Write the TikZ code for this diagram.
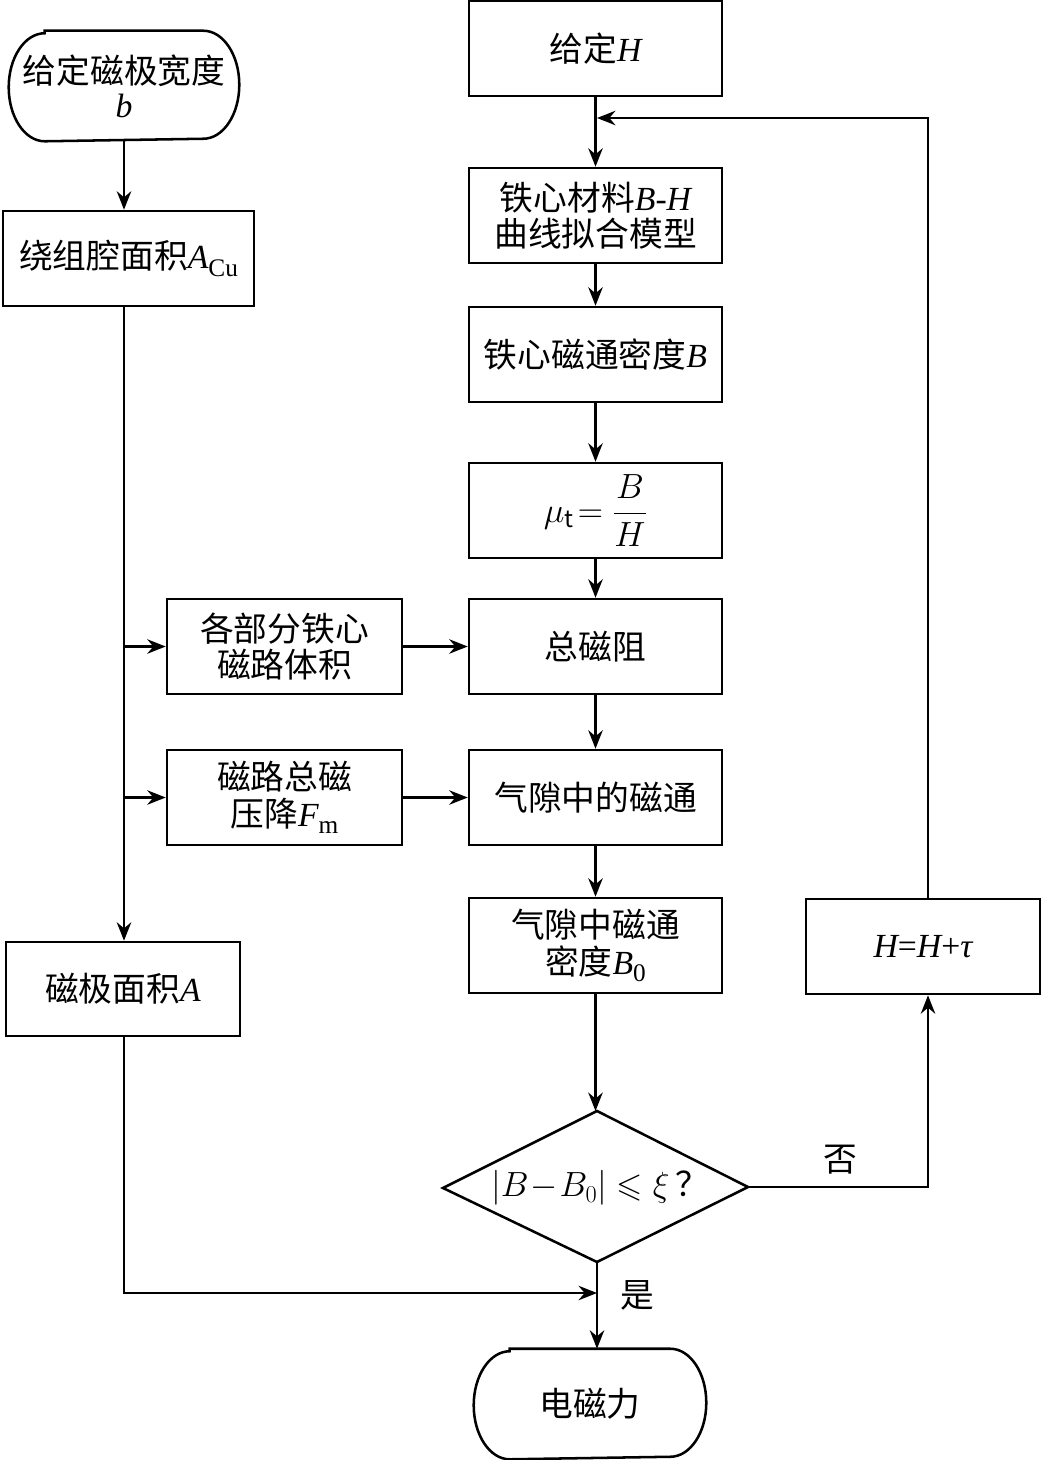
\documentclass[tikz,border=0pt]{standalone}
\usepackage{amsmath,amssymb}
\usepackage{fontspec}
\setmainfont{Noto Sans CJK SC}
\newfontfamily\lat{Liberation Serif}
\usetikzlibrary{arrows.meta}
\newcommand\vi[1]{{\lat\itshape #1}}
\newcommand\lsub[1]{\raisebox{-0.4ex}{{\lat\fontsize{18}{18}\selectfont #1}}}
\begin{document}
\begin{tikzpicture}[x=0.025cm,y=0.025cm,
 font=\fontsize{24}{26}\selectfont,
 line width=1.8pt,
 box/.style={draw, rectangle, inner sep=0pt, align=center, minimum height=2.375cm},
 cbox/.style={box, minimum width=6.325cm},
 sbox/.style={box, minimum width=5.875cm},
 arr/.style={-{Stealth[length=4.6mm,width=3.6mm,inset=1.5mm]}},
 lbl/.style={inner sep=0pt},
]
\useasboundingbox (0,0) rectangle (1042,-1460);

% left column
\node[inner sep=0pt, align=center, minimum width=5.7cm, minimum height=2.7cm] (st) at (124,-86) {给定磁极宽度\\[-2pt]\vi{b}};
\draw ([xshift=0.9cm]st.north west) -- ([xshift=-0.9cm]st.north east)
  arc[start angle=90,end angle=-90,x radius=0.9cm,y radius=1.35cm]
  -- ([xshift=0.9cm]st.south west)
  arc[start angle=270,end angle=90,x radius=0.9cm,y radius=1.35cm] -- cycle;
\node[box, minimum width=6.275cm] (acu) at (128.5,-258.5) {绕组腔面积\vi{A}\lsub{Cu}};
\node[box, minimum width=5.85cm, minimum height=2.35cm] (area) at (123,-989) {磁极面积\vi{A}};
\node[sbox] (vol) at (284.5,-646.5) {各部分铁心\\磁路体积};
\node[sbox] (mmf) at (284.5,-797.5) {磁路总磁\\压降\vi{F}\lsub{m}};

% centre column
\node[cbox] (gh) at (595.5,-48.5) {给定\vi{H}};
\node[cbox] (bh) at (595.5,-215.5) {铁心材料\vi{B-H}\\曲线拟合模型};
\node[cbox] (bd) at (595.5,-354.5) {铁心磁通密度\vi{B}};
\node[cbox] (mu) at (595.5,-510.5) {$\mu_{\mathrm{t}}\!=\dfrac{B}{H}$};
\node[cbox] (rel) at (595.5,-646.5) {总磁阻};
\node[cbox] (flux) at (595.5,-797.5) {气隙中的磁通};
\node[cbox] (b0) at (595.5,-945.5) {气隙中磁通\\密度\vi{B}\lsub{0}};

% decision
\coordinate (dtop) at (597,-1111);
\coordinate (dleft) at (443,-1188);
\coordinate (dright) at (748,-1187);
\coordinate (dbot) at (597,-1262);
\draw (dtop) -- (dright) -- (dbot) -- (dleft) -- cycle;
\node[lbl] (cond) at (600,-1188) {$\left|B\!-\!B_0\right|\leqslant\xi$\,？};

% end
\node[inner sep=0pt, minimum width=5.75cm, minimum height=2.7cm] (en) at (590,-1404) {电磁力};
\draw ([xshift=0.9cm]en.north west) -- ([xshift=-0.9cm]en.north east)
  arc[start angle=90,end angle=-90,x radius=0.9cm,y radius=1.35cm]
  -- ([xshift=0.9cm]en.south west)
  arc[start angle=270,end angle=90,x radius=0.9cm,y radius=1.35cm] -- cycle;

% right
\node[box, minimum width=5.85cm] (hb) at (923,-946.5) {\vi{H}{\lat =}\vi{H}{\lat +}\vi{τ}};

% helper coordinates
\coordinate (lx) at (124,0);
\coordinate (rx) at (928,0);
\coordinate (join) at (597,-1293);
\coordinate (loop) at (597,-118);

% connectors left
\draw[arr] (st.south) -- (st.south |- acu.north);
\draw[arr] (lx |- acu.south) -- (lx |- area.north);
\draw[arr] (lx |- vol.west) -- (vol.west);
\draw[arr] (lx |- mmf.west) -- (mmf.west);
\draw[arr] (vol.east) -- (rel.west);
\draw[arr] (mmf.east) -- (flux.west);
\draw[arr] (lx |- area.south) |- (join);

% connectors centre
\draw[arr] (gh.south) -- (bh.north);
\draw[arr] (bh.south) -- (bd.north);
\draw[arr] (bd.south) -- (mu.north);
\draw[arr] (mu.south) -- (rel.north);
\draw[arr] (rel.south) -- (flux.north);
\draw[arr] (flux.south) -- (b0.north);
\draw[arr] (b0.south) -- (b0.south |- dtop);
\draw[arr] (dbot) -- (dbot |- en.north);

% loop
\draw[arr] (dright) -| (rx |- hb.south);
\draw[arr] (rx |- hb.north) |- (loop);

% labels
\node[lbl] (no) at (840,-1160) {否};
\node[lbl] (yes) at (637,-1295) {是};
\end{tikzpicture}
\end{document}
